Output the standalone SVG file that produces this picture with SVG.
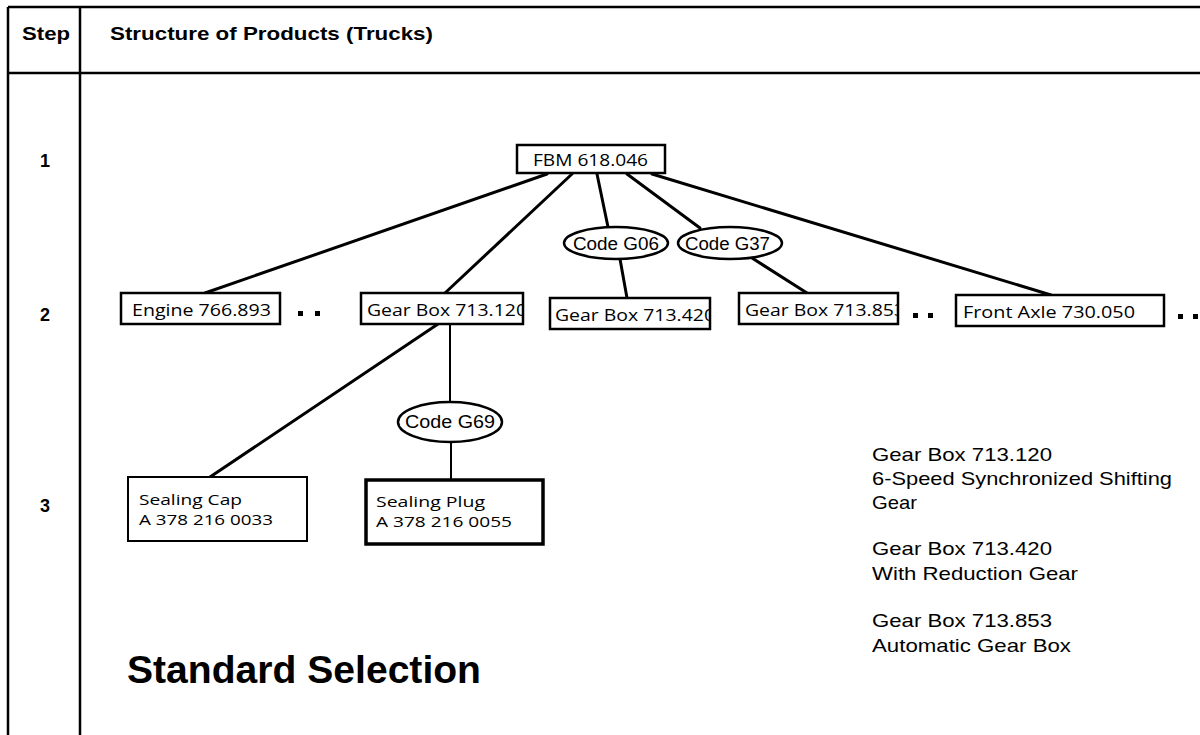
<svg xmlns="http://www.w3.org/2000/svg" width="1200" height="735" viewBox="0 0 1200 735">
<style>
.tbl{stroke:#000;stroke-width:2.5;fill:none}
.hd{font-family:"Liberation Sans",Arial,sans-serif;font-weight:bold;font-size:18px;fill:#000}
.box{fill:#fff;stroke:#000;stroke-width:2.5}
.nt{font-family:"Open Sans","DejaVu Sans",sans-serif;font-size:17px;fill:#000}
.nt2{font-family:"Open Sans","DejaVu Sans",sans-serif;font-size:14.5px;fill:#000}
.ct{font-family:"Liberation Sans",Arial,sans-serif;font-size:18px;fill:#000}
.note{font-family:"Liberation Sans",Arial,sans-serif;font-size:19px;fill:#000}
.big{font-family:"Liberation Sans",Arial,sans-serif;font-weight:bold;font-size:38px;fill:#000}
.ln{stroke:#000;stroke-width:3;fill:none;stroke-linecap:round}
.thin{stroke:#000;stroke-width:2;fill:none}
.el{fill:#fff;stroke:#000;stroke-width:2.5}
.dot{fill:#000}
</style>
<defs>
<clipPath id="c120"><rect x="361" y="293" width="161" height="31"/></clipPath>
<clipPath id="c420"><rect x="551" y="298" width="158" height="31"/></clipPath>
<clipPath id="c853"><rect x="739" y="293" width="158" height="31"/></clipPath>
</defs>
<rect width="1200" height="735" fill="#fff"/>
<g id="table">
<line class="tbl" x1="8" y1="7" x2="1200" y2="7"/>
<line class="tbl" x1="8" y1="73" x2="1200" y2="73"/>
<line class="tbl" x1="8" y1="7" x2="8" y2="735"/>
<line class="tbl" x1="80" y1="7" x2="80" y2="735"/>
<text class="hd" x="22" y="40" textLength="48" lengthAdjust="spacingAndGlyphs">Step</text>
<text class="hd" x="110" y="40" textLength="323" lengthAdjust="spacingAndGlyphs">Structure of Products (Trucks)</text>
<text class="hd" x="45" y="167" text-anchor="middle">1</text>
<text class="hd" x="45" y="321" text-anchor="middle">2</text>
<text class="hd" x="45" y="512" text-anchor="middle">3</text>
</g>
<g id="connectors">
<line class="ln" x1="547" y1="174" x2="205" y2="293"/>
<line class="ln" x1="572" y1="174" x2="445" y2="293"/>
<line class="ln" x1="597" y1="174" x2="608" y2="227"/>
<line class="ln" x1="620" y1="259" x2="627" y2="298"/>
<line class="ln" x1="627" y1="174" x2="700" y2="228"/>
<line class="ln" x1="752" y1="258" x2="807" y2="293"/>
<line class="ln" x1="652" y1="174" x2="1051" y2="295"/>
<line class="ln" x1="438" y1="324" x2="210" y2="477"/>
<line class="thin" x1="450" y1="324" x2="450" y2="402"/>
<line class="thin" x1="451" y1="442" x2="451" y2="479"/>
</g>
<g id="n_fbm">
<rect class="box" x="517" y="145" width="148" height="28"/>
<text class="nt" x="533" y="166" textLength="115" lengthAdjust="spacingAndGlyphs">FBM 618.046</text>
</g>
<g id="n_engine">
<rect class="box" x="121" y="293" width="159" height="31"/>
<text class="nt" x="132" y="316" textLength="139" lengthAdjust="spacingAndGlyphs">Engine 766.893</text>
<rect class="dot" x="298" y="311" width="5" height="5"/>
<rect class="dot" x="315" y="311" width="5" height="5"/>
</g>
<g id="n_gb120">
<rect class="box" x="361" y="293" width="162" height="31"/>
<text class="nt" x="367" y="316" textLength="160" lengthAdjust="spacingAndGlyphs" clip-path="url(#c120)">Gear Box 713.120</text>
</g>
<g id="n_g06">
<ellipse class="el" cx="616" cy="243" rx="52" ry="16"/>
<text class="ct" x="573" y="250" textLength="86" lengthAdjust="spacingAndGlyphs">Code G06</text>
</g>
<g id="n_g37">
<ellipse class="el" cx="730" cy="243" rx="52" ry="16"/>
<text class="ct" x="685" y="250" textLength="85" lengthAdjust="spacingAndGlyphs">Code G37</text>
</g>
<g id="n_gb420">
<rect class="box" x="550" y="298" width="160" height="31"/>
<text class="nt" x="555" y="321" textLength="160" lengthAdjust="spacingAndGlyphs" clip-path="url(#c420)">Gear Box 713.420</text>
</g>
<g id="n_gb853">
<rect class="box" x="739" y="293" width="159" height="31"/>
<text class="nt" x="745" y="316" textLength="160" lengthAdjust="spacingAndGlyphs" clip-path="url(#c853)">Gear Box 713.853</text>
<rect class="dot" x="913" y="313" width="5" height="5"/>
<rect class="dot" x="928" y="313" width="5" height="5"/>
</g>
<g id="n_frontaxle">
<rect class="box" x="956" y="295" width="208" height="31"/>
<text class="nt" x="963" y="318" textLength="172" lengthAdjust="spacingAndGlyphs">Front Axle 730.050</text>
<rect class="dot" x="1178" y="314" width="5" height="5"/>
<rect class="dot" x="1193" y="314" width="5" height="5"/>
</g>
<g id="n_g69">
<ellipse class="el" cx="450" cy="422" rx="52" ry="20"/>
<text class="ct" x="405" y="428" textLength="90" lengthAdjust="spacingAndGlyphs">Code G69</text>
</g>
<g id="n_cap">
<rect class="box" x="128" y="477" width="179" height="64" style="stroke-width:2"/>
<text class="nt2" x="139" y="505" textLength="103" lengthAdjust="spacingAndGlyphs">Sealing Cap</text>
<text class="nt2" x="139" y="525" textLength="134" lengthAdjust="spacingAndGlyphs">A 378 216 0033</text>
</g>
<g id="n_plug">
<rect class="box" x="366" y="480" width="177" height="64" style="stroke-width:3.5"/>
<text class="nt2" x="376" y="507" textLength="109" lengthAdjust="spacingAndGlyphs">Sealing Plug</text>
<text class="nt2" x="376" y="527" textLength="136" lengthAdjust="spacingAndGlyphs">A 378 216 0055</text>
</g>
<g id="notes">
<text class="note" x="872" y="461" textLength="180" lengthAdjust="spacingAndGlyphs">Gear Box 713.120</text>
<text class="note" x="872" y="485" textLength="300" lengthAdjust="spacingAndGlyphs">6-Speed Synchronized Shifting</text>
<text class="note" x="872" y="509" textLength="45" lengthAdjust="spacingAndGlyphs">Gear</text>
<text class="note" x="872" y="555" textLength="180" lengthAdjust="spacingAndGlyphs">Gear Box 713.420</text>
<text class="note" x="872" y="580" textLength="206" lengthAdjust="spacingAndGlyphs">With Reduction Gear</text>
<text class="note" x="872" y="627" textLength="180" lengthAdjust="spacingAndGlyphs">Gear Box 713.853</text>
<text class="note" x="872" y="652" textLength="199" lengthAdjust="spacingAndGlyphs">Automatic Gear Box</text>
<text class="big" x="127" y="683" textLength="354" lengthAdjust="spacingAndGlyphs">Standard Selection</text>
</g>
</svg>
